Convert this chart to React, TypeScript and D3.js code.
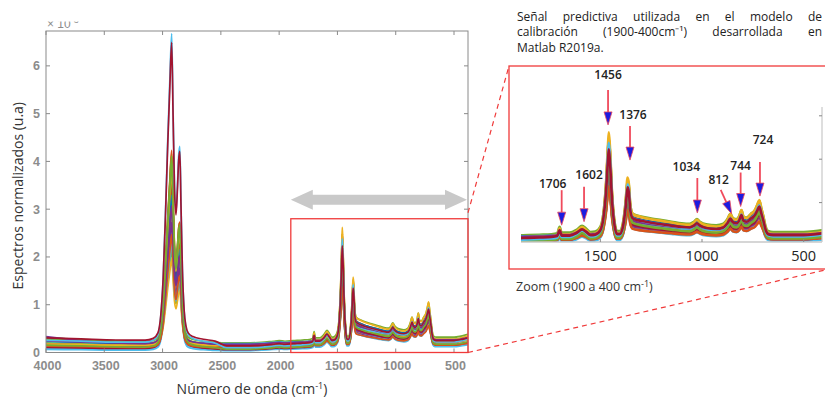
import React from 'react';
import * as d3 from 'd3';

const W = 825;
const H = 400;

const seriesColors = ['#0072BD', '#D95319', '#EDB120', '#7E2F8E', '#77AC30', '#4DBEEE', '#A2142F'];

// Mean spectrum (wavenumber cm-1, normalized absorbance x10^-3)
const wavenumbers = [4000, 3700, 3400, 3150, 3080, 3040, 3015, 2995, 2975, 2955, 2938, 2922, 2910, 2898, 2885, 2872, 2862, 2852, 2842, 2830, 2815, 2800, 2780, 2740, 2650, 2550, 2450, 2300, 2150, 2050, 2000, 1950, 1880, 1800, 1740, 1712, 1700, 1690, 1650, 1615, 1590, 1570, 1548, 1525, 1500, 1485, 1472, 1462, 1458, 1452, 1442, 1430, 1418, 1405, 1390, 1375, 1366, 1360, 1352, 1340, 1300, 1250, 1200, 1150, 1100, 1060, 1040, 1025, 1010, 980, 930, 895, 875, 860, 848, 830, 818, 806, 796, 780, 760, 740, 728, 718, 708, 698, 688, 675, 650, 600, 500, 440, 400, 380];
const meanSpectrum = [0.14, 0.13, 0.12, 0.12, 0.14, 0.2, 0.4, 0.8, 1.5, 2.3, 2.9, 3.4, 2.6, 1.8, 1.5, 1.8, 2.1, 2.2, 1.6, 0.9, 0.45, 0.28, 0.2, 0.16, 0.13, 0.11, 0.1, 0.1, 0.11, 0.13, 0.14, 0.13, 0.14, 0.15, 0.16, 0.18, 0.3, 0.19, 0.19, 0.25, 0.32, 0.27, 0.2, 0.21, 0.3, 0.55, 1.1, 1.8, 2.0, 1.7, 0.9, 0.4, 0.22, 0.22, 0.35, 0.8, 1.2, 1.1, 0.7, 0.55, 0.5, 0.46, 0.43, 0.4, 0.37, 0.36, 0.4, 0.45, 0.4, 0.35, 0.33, 0.36, 0.45, 0.55, 0.47, 0.45, 0.5, 0.62, 0.5, 0.48, 0.55, 0.62, 0.72, 0.8, 0.65, 0.5, 0.32, 0.22, 0.2, 0.2, 0.2, 0.22, 0.24, 0.25];

// Per-sample factors (C-H stretch region, fingerprint region, baseline offset, lift at 4000 cm-1)
const chScale = [1.0, 0.9, 1.1, 0.8, 1.2, 0.95, 1.05, 0.7, 1.25, 0.85, 1.15, 0.6, 0.75, 1.0, 0.9, 1.1, 0.55, 0.8, 1.2, 0.65, 1.05, 0.95, 0.72, 1.12, 0.88, 1.18, 1.97, 1.9];
const fpScale = [1.0, 0.85, 1.1, 0.75, 1.2, 0.95, 1.05, 0.7, 1.25, 0.9, 1.15, 0.65, 0.8, 1.0, 0.9, 1.1, 0.7, 0.85, 1.12, 0.78, 0.98, 1.08, 0.68, 1.3, 0.92, 1.02, 1.2, 1.1];
const baseOffset = [0.02, -0.03, 0.05, 0.0, 0.08, -0.05, 0.03, 0.1, -0.02, 0.06, 0.01, 0.12, -0.04, 0.04, 0.07, -0.01, 0.09, 0.0, 0.03, 0.11, -0.04, 0.06, 0.02, 0.02, 0.08, -0.03, -0.02, 0.03];
const highEndLift = [0.02, 0.0, 0.04, 0.0, 0.06, 0.0, 0.03, 0.05, 0.0, 0.02, 0.0, 0.08, 0.0, 0.04, 0.03, 0.0, 0.05, 0.22, 0.02, 0.03, 0.0, 0.05, 0.01, 0.0, 0.04, 0.02, 0.0, 0.01];

const xTicks = [4000, 3500, 3000, 2500, 2000, 1500, 1000, 500];
const yTicks = [0, 1, 2, 3, 4, 5, 6];
const zoomXTicks = [1500, 1000, 500];
const zoomYTicks = [1, 2, 3];
const zoomRange = [1900, 380];

const peakLabels = ['1706', '1602', '1456', '1376', '1034', '812', '744', '724'];
const peakWn = [1690, 1580, 1462, 1354, 1023, 854, 810, 715];
const peakTip = [0.48, 0.56, 2.79, 1.98, 0.76, 0.74, 0.91, 1.15];
// layout of each annotation: shaft length, label dx, label gap, arrow direction dx
const peakLayout = [
  { len: 35, ldx: -9, gap: 2, dx: 0 },
  { len: 35, ldx: 5, gap: 8, dx: 0 },
  { len: 35, ldx: 0, gap: 11, dx: 0 },
  { len: 34, ldx: 3, gap: 7, dx: 0 },
  { len: 35, ldx: -11, gap: 7, dx: 0 },
  { len: 24, ldx: -2, gap: 6, dx: -11 },
  { len: 34, ldx: 0, gap: 3, dx: 0 },
  { len: 34, ldx: 3, gap: 18, dx: 0 },
];

const titleLine1 = ['Señal', 'predictiva', 'utilizada', 'en', 'el', 'modelo', 'de'];
const titleLine2 = ['calibración', '(1900-400cm⁻¹)', 'desarrollada', 'en'];
const titleLine3 = 'Matlab R2019a.';

function sampleValues(i: number) {
  return wavenumbers.map((w, j) => {
    const k = w > 2500 ? chScale[i] : fpScale[i];
    const lift = w > 3100 ? (highEndLift[i] * (w - 3100)) / 900 : 0;
    return Math.max(0.015, meanSpectrum[j] * k + baseOffset[i] + lift);
  });
}

const samples = chScale.map((_, i) => sampleValues(i));

let canvasCtx: CanvasRenderingContext2D | null = null;
function measure(text: string, font: string) {
  if (!canvasCtx) canvasCtx = document.createElement('canvas').getContext('2d');
  if (!canvasCtx) return text.length * 6;
  canvasCtx.font = font;
  return canvasCtx.measureText(text).width;
}
function justify(words: string[], x0: number, x1: number, font: string) {
  const widths = words.map((w) => measure(w, font));
  const gap = (x1 - x0 - d3.sum(widths)) / (words.length - 1);
  let x = x0;
  return words.map((_, i) => {
    const r = x;
    x += widths[i] + gap;
    return r;
  });
}

export default function App() {
  // main plot
  const mL = 46, mR = 468, mT = 31, mB = 352.5;
  const x = d3.scaleLinear().domain([4000, 380]).range([mL, mR]);
  const y = d3.scaleLinear().domain([0, 6.73]).range([mB, mT]);
  const line = d3
    .line<number>()
    .x((_, j) => x(wavenumbers[j]))
    .y((v) => y(v))
    .curve(d3.curveMonotoneX);

  // zoom panel
  const zL = 521, zR = 822, zB = 242;
  const zx = d3.scaleLinear().domain([1890, 410]).range([zL, zR]);
  const zy = d3.scaleLinear().domain([0, 3.2]).range([246, 246 - 3.2 * 43.4]);
  const zline = d3
    .line<number>()
    .x((_, j) => zx(wavenumbers[j]))
    .y((v) => zy(v))
    .curve(d3.curveMonotoneX);

  const labFont = "bold 12.5px 'Liberation Sans', Arial, sans-serif";
  const txtFont = "12px 'Open Sans'";
  const j1 = justify(titleLine1, 517, 822, txtFont);
  const j2 = justify(titleLine2, 517, 822, txtFont);

  // red box in main plot
  const boxX0 = x(zoomRange[0]);
  const boxX1 = mR;
  const boxY0 = y(2.8);
  const arrowY = y(3.2);
  const ax0 = boxX0, ax1 = boxX1 - 1;

  return (
    <svg width={W} height={H} style={{ position: 'absolute', left: 0, top: 0, background: '#fff' }}>
      <defs>
        <clipPath id="mainClip">
          <rect x={mL} y={mT} width={mR - mL} height={mB - mT} />
        </clipPath>
        <clipPath id="zoomClip">
          <rect x={zL} y={95} width={zR - zL} height={zB - 95} />
        </clipPath>
        <clipPath id="expClip">
          <rect x={40} y={21.5} width={60} height={10} />
        </clipPath>
      </defs>
      <rect x={0} y={0} width={W} height={H} fill="#fff" />

      {/* ===== main plot ===== */}
      <g clipPath="url(#mainClip)">
        {samples.map((s, i) => (
          <path key={i} d={line(s) || ''} fill="none" stroke={seriesColors[i % 7]} strokeWidth={1.7} />
        ))}
      </g>
      <rect x={mL} y={mT} width={mR - mL} height={mB - mT} fill="none" stroke="#8a8a8a" strokeWidth={1} />
      {xTicks.map((t) => (
        <g key={t}>
          <line x1={x(t)} x2={x(t)} y1={mB} y2={mB - 4} stroke="#8a8a8a" />
          <line x1={x(t)} x2={x(t)} y1={mT} y2={mT + 4} stroke="#8a8a8a" />
          <text x={x(t) + 1.5} y={370} textAnchor="middle" style={{ font: labFont }} fill="#8c8c8c">
            {t}
          </text>
        </g>
      ))}
      {yTicks.map((t) => (
        <g key={t}>
          <line x1={mL} x2={mL + 4} y1={y(t)} y2={y(t)} stroke="#8a8a8a" />
          <line x1={mR} x2={mR - 4} y1={y(t)} y2={y(t)} stroke="#8a8a8a" />
          <text x={40} y={y(t) + 4.5} textAnchor="end" style={{ font: labFont }} fill="#8c8c8c">
            {t}
          </text>
        </g>
      ))}
      <g clipPath="url(#expClip)">
        <text x={47} y={28} style={{ font: "12px 'Liberation Sans', Arial, sans-serif" }} fill="#8c8c8c">
          × 10
          <tspan dy={-5} fontSize={9}>-3</tspan>
        </text>
      </g>
      <text
        transform={`translate(23,${(mT + mB) / 2 + 4}) rotate(-90)`}
        textAnchor="middle"
        style={{ font: "14px 'Open Sans'" }}
        fill="#333"
      >
        Espectros normalizados (u.a)
      </text>
      <text x={252} y={394} textAnchor="middle" style={{ font: "14px 'Open Sans'" }} fill="#333">
        Número de onda (cm<tspan dy={-5} fontSize={9}>-1</tspan>
        <tspan dy={5}>)</tspan>
      </text>

      {/* gray double arrow */}
      <path
        d={`M${ax0},${arrowY} L${ax0 + 22},${arrowY - 10} L${ax0 + 22},${arrowY - 5} L${ax1 - 22},${arrowY - 5} L${ax1 - 22},${arrowY - 10} L${ax1},${arrowY} L${ax1 - 22},${arrowY + 10} L${ax1 - 22},${arrowY + 5} L${ax0 + 22},${arrowY + 5} L${ax0 + 22},${arrowY + 10} Z`}
        fill="#c9c9c9"
      />
      {/* red box */}
      <rect x={boxX0} y={boxY0} width={boxX1 - boxX0} height={mB - boxY0} fill="none" stroke="#f03a3a" strokeWidth={1.3} />
      {/* dashed connectors */}
      <line x1={boxX1} y1={boxY0 - 6} x2={509} y2={66} stroke="#f03a3a" strokeWidth={1.2} strokeDasharray="5,4" />
      <line x1={boxX1} y1={mB} x2={825} y2={270} stroke="#f03a3a" strokeWidth={1.2} strokeDasharray="5,4" />

      {/* ===== zoom panel ===== */}
      <text style={{ font: txtFont }} fill="#222">
        {titleLine1.map((w, i) => (
          <tspan key={i} x={j1[i]} y={20.5}>
            {w}
          </tspan>
        ))}
      </text>
      <text style={{ font: txtFont }} fill="#222">
        {titleLine2.map((w, i) => (
          <tspan key={i} x={j2[i]} y={36}>
            {w}
          </tspan>
        ))}
      </text>
      <text x={517} y={51.5} style={{ font: txtFont }} fill="#222">
        {titleLine3}
      </text>

      <rect x={509} y={66} width={W - 509 + 5} height={269 - 66} fill="#fff" stroke="#f03a3a" strokeWidth={1.3} />
      <g clipPath="url(#zoomClip)">
        {samples.map((s, i) => (
          <path key={i} d={zline(s) || ''} fill="none" stroke={seriesColors[i % 7]} strokeWidth={2.6} />
        ))}
      </g>
      <line x1={zL} x2={zR} y1={zB} y2={zB} stroke="#c8c8c8" strokeWidth={1.5} />
      <line x1={zR} x2={zR} y1={zy(3.2)} y2={zB} stroke="#c8c8c8" strokeWidth={1.2} />
      {zoomXTicks.map((t) => (
        <g key={t}>
          <line x1={zx(t)} x2={zx(t)} y1={zB} y2={zB - 3} stroke="#888" />
          <text x={zx(t)} y={261} textAnchor="middle" style={{ font: "14.5px 'Open Sans'" }} fill="#222">
            {t}
          </text>
        </g>
      ))}
      {zoomYTicks.map((t) => (
        <line key={t} x1={zR} x2={zR - 3} y1={zy(t)} y2={zy(t)} stroke="#888" />
      ))}

      {peakLabels.map((lab, i) => {
        const tx = zx(peakWn[i]);
        const ty = zy(peakTip[i]);
        const L = peakLayout[i];
        const headLen = 13;
        const dx = L.dx;
        const dy = -L.len;
        const norm = Math.hypot(dx, dy);
        const ux = dx / norm, uy = dy / norm;
        const bx = tx + ux * headLen, by = ty + uy * headLen;
        const sx = tx + dx, sy = ty + dy;
        const px = -uy * 4, py = ux * 4;
        return (
          <g key={lab}>
            <line x1={sx} y1={sy} x2={bx} y2={by} stroke="#f04a5c" strokeWidth={1.8} />
            <path
              d={`M${tx},${ty} L${bx + px},${by + py} L${bx - px},${by - py} Z`}
              fill="#1c1ce0"
              stroke="#f04a5c"
              strokeWidth={0.8}
            />
            <text
              x={sx + L.ldx}
              y={sy - L.gap}
              textAnchor="middle"
              style={{ font: "600 12px 'Open Sans'" }}
              fill="#222"
            >
              {lab}
            </text>
          </g>
        );
      })}

      <text x={516} y={291} style={{ font: "12.5px 'Open Sans'" }} fill="#333">
        Zoom  (1900 a 400 cm<tspan dy={-4} fontSize={9}>-1</tspan>
        <tspan dy={4}>)</tspan>
      </text>
    </svg>
  );
}
